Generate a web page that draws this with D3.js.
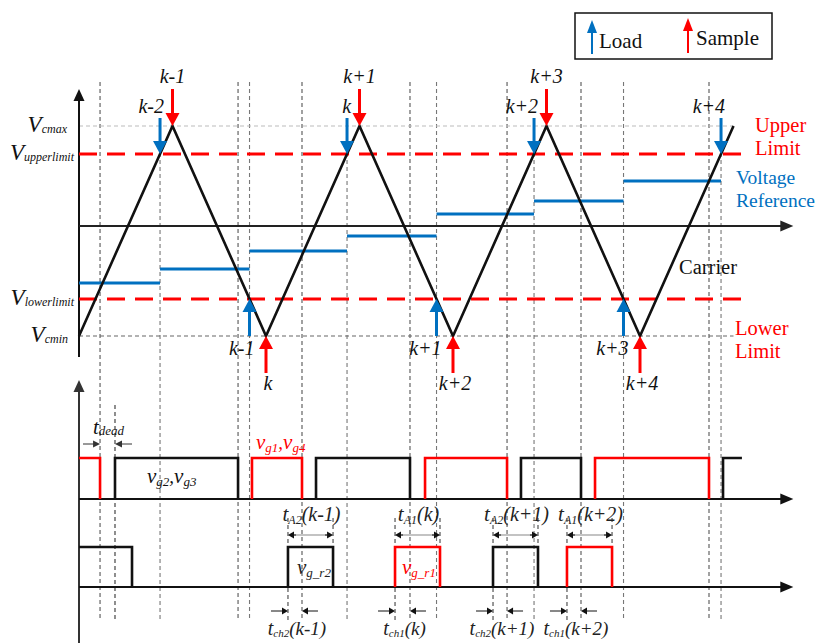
<!DOCTYPE html>
<html><head><meta charset="utf-8">
<script src="https://cdn.jsdelivr.net/npm/d3@7"></script>
<style>
body{margin:0;background:#fff;}
</style></head><body>
<svg id="chart" width="818" height="643"></svg>
<script>
// ---- data (time in carrier half-periods, voltage in per-unit) ----
const carrierT = [0, 1, 2, 3, 4, 5, 6, 7];
const carrierV = [-1.1, 1, -1.1, 1, -1.1, 1, -1.1, 1];
const vcMax = 1.0, vcMin = -1.1;
const upperLimit = 0.72, lowerLimit = -0.73;
const refLevels = [-0.57, -0.43, -0.25, -0.10, 0.12, 0.25, 0.45];
const loadLabels = ["k-2", "k-1", "k", "k+1", "k+2", "k+3", "k+4"];
const peakLabels = ["k-1", "k+1", "k+3"];
const valleyLabels = ["k", "k+2", "k+4"];
// main gate pulses (leg 1: v_g1,v_g4 ; leg 2: v_g2,v_g3)
const gateStart = [0, 0.385, 1.850, 2.535, 3.701, 4.727, 5.519, 6.888];
const gateEnd   = [0.225, 1.701, 2.385, 3.540, 4.578, 5.369, 6.738, 7.09];
const gateLeg   = [1, 2, 1, 2, 1, 2, 1, 2];
// auxiliary gate pulses v_g_r1 / v_g_r2
const rStart = [0, 2.235, 3.380, 4.428, 5.219];
const rEnd   = [0.567, 2.717, 3.861, 4.909, 5.701];
const rLeg   = [2, 2, 1, 2, 1];
const tALabels  = [["A2", "(k-1)"], ["A1", "(k)"], ["A2", "(k+1)"], ["A1", "(k+2)"]];
const tchLabels = [["ch2", "(k-1)"], ["ch1", "(k)"], ["ch2", "(k+1)"], ["ch1", "(k+2)"]];

const RED = "#ff0000", BLUE = "#0070c0", INK = "#111";
const FONT = "Liberation Serif";
const svg = d3.select("#chart");

// ---- scales ----
const x = d3.scaleLinear().domain([0, 7]).range([79, 733.5]);
const yV = d3.scaleLinear().domain([vcMin, vcMax]).range([336, 126]);
const yG = d3.scaleLinear().domain([0, 1]).range([499, 458]);
const yR = d3.scaleLinear().domain([0, 1]).range([587, 547]);
const tAxisEnd = 7.64, tLimitEnd = 7.18;

// load instants: carrier crossings of the upper limit (rising) and lower limit (falling)
const span = vcMax - vcMin;
const loadT = loadLabels.map((_, i) => {
  const n = Math.floor(i / 2);
  return i % 2 === 0 ? 2 * n + (upperLimit - vcMin) / span
                     : 2 * n + 2 - (lowerLimit - vcMin) / span;
});
const peakT = carrierT.filter((_, i) => carrierV[i] === vcMax && carrierT[i] < 7);
const valleyT = carrierT.filter((_, i) => carrierV[i] === vcMin && carrierT[i] > 0);

// ---- helpers ----
function arrow(g, x1, y1, x2, y2, color, w, hl, hw) {
  const dx = x2 - x1, dy = y2 - y1, L = Math.hypot(dx, dy);
  const ux = dx / L, uy = dy / L;
  const bx = x2 - ux * hl, by = y2 - uy * hl;
  g.append("line").attr("x1", x1).attr("y1", y1).attr("x2", bx + ux).attr("y2", by + uy)
    .attr("stroke", color).attr("stroke-width", w);
  g.append("path")
    .attr("d", `M${x2},${y2}L${bx - uy * hw / 2},${by + ux * hw / 2}L${bx + uy * hw / 2},${by - ux * hw / 2}Z`)
    .attr("fill", color);
}
function vline(g, t, y1, y2, color) {
  g.append("line").attr("x1", x(t)).attr("x2", x(t)).attr("y1", y1).attr("y2", y2)
    .attr("stroke", color).attr("stroke-width", 1.1).attr("stroke-dasharray", "4,3");
}
function subText(g, px, py, parts, color, anchor) {
  // parts: [text, size, dy]
  const t = g.append("text").attr("x", px).attr("y", py).attr("fill", color)
    .attr("font-family", FONT)
    .attr("text-anchor", anchor || "start").attr("font-style", "italic");
  parts.forEach(p => t.append("tspan").attr("font-size", p[1]).attr("dy", p[2] || 0).text(p[0]));
  return t;
}
function label(g, px, py, s, size, color, anchor, italic) {
  return g.append("text").attr("x", px).attr("y", py).attr("font-family", FONT)
    .attr("font-size", size).attr("fill", color).attr("text-anchor", anchor || "start")
    .attr("font-style", italic ? "italic" : "normal").text(s);
}

const guides = svg.append("g");
const marks = svg.append("g");
const labels = svg.append("g");

// ---- dashed guide lines ----
gateEnd.slice(0, -1).forEach(t => vline(guides, t, 82, 621, "#555"));
loadT.forEach((t, i) => vline(guides, t, i % 2 === 0 ? 118 : 82, 621, "#777"));
vline(guides, gateStart[1], 405, 621, "#333");
rStart.slice(1).forEach(t => vline(guides, t, 518, 621, "#444"));
rEnd.slice(1).forEach(t => vline(guides, t, 518, 547, "#444"));

// Vcmax / Vcmin levels
guides.append("line").attr("x1", x(0)).attr("x2", x(7)).attr("y1", yV(vcMax)).attr("y2", yV(vcMax))
  .attr("stroke", "#bbb").attr("stroke-width", 1.2).attr("stroke-dasharray", "4,3");
guides.append("line").attr("x1", x(0)).attr("x2", x(7)).attr("y1", yV(vcMin)).attr("y2", yV(vcMin))
  .attr("stroke", "#666").attr("stroke-width", 1.2).attr("stroke-dasharray", "4,3");

// ---- axes ----
arrow(marks, x(0), 357, x(0), 89, INK, 2, 12, 11);
arrow(marks, x(0), yV(0), x(tAxisEnd), yV(0), "#222", 2, 13, 11);
arrow(marks, x(0), 643, x(0), 380, "#333", 2, 12, 11);
arrow(marks, x(0), yG(0), x(tAxisEnd), yG(0), INK, 2, 13, 11);
arrow(marks, x(0), yR(0), x(tAxisEnd), yR(0), INK, 2, 13, 11);

// ---- limits ----
[upperLimit, lowerLimit].forEach(v => {
  marks.append("line").attr("x1", x(0)).attr("x2", x(tLimitEnd)).attr("y1", yV(v)).attr("y2", yV(v))
    .attr("stroke", RED).attr("stroke-width", 3).attr("stroke-dasharray", "18,10");
});

// ---- voltage reference (sample-and-hold) ----
const refBounds = [0].concat(loadT);
refLevels.forEach((v, i) => {
  marks.append("line").attr("x1", x(refBounds[i])).attr("x2", x(refBounds[i + 1]))
    .attr("y1", yV(v)).attr("y2", yV(v)).attr("stroke", BLUE).attr("stroke-width", 3);
});

// ---- carrier ----
marks.append("path")
  .attr("d", d3.line().x((d, i) => x(carrierT[i])).y((d, i) => yV(carrierV[i]))(carrierT))
  .attr("fill", "none").attr("stroke", INK).attr("stroke-width", 2.6);

// ---- sample arrows (red) and load arrows (blue) ----
peakT.forEach((t, i) => {
  arrow(marks, x(t), 89, x(t), yV(vcMax), RED, 3, 13, 14);
  label(labels, x(t), 83, peakLabels[i], 20, INK, "middle", true);
});
valleyT.forEach((t, i) => {
  arrow(marks, x(t), 373, x(t), yV(vcMin), RED, 3, 13, 14);
  label(labels, x(t) + 2, 390, valleyLabels[i], 20, INK, "middle", true);
});
loadT.forEach((t, i) => {
  const up = i % 2 === 1;
  if (up) arrow(marks, x(t), yV(vcMin), x(t), yV(lowerLimit), BLUE, 3, 13, 14);
  else arrow(marks, x(t), 118, x(t), yV(upperLimit), BLUE, 3, 13, 14);
  label(labels, x(t) + (up ? 5 : 4), up ? 355 : 113, loadLabels[i], 20, INK, "end", true);
});

// ---- gate pulses ----
function pulses(s, e, leg, y) {
  s.forEach((t0, i) => {
    const t1 = e[i];
    const p = d3.path();
    if (t0 === 0) { p.moveTo(x(t0), y(1)); }
    else { p.moveTo(x(t0), y(0)); p.lineTo(x(t0), y(1)); }
    p.lineTo(x(t1), y(1));
    if (!(y === yG && i === s.length - 1)) p.lineTo(x(t1), y(0));
    marks.append("path").attr("d", p.toString()).attr("fill", "none")
      .attr("stroke", leg[i] === 1 ? RED : INK).attr("stroke-width", 2.6);
  });
}
pulses(gateStart, gateEnd, gateLeg, yG);
pulses(rStart, rEnd, rLeg, yR);

// dead time
arrow(marks, x(0) + 4, 444, x(gateEnd[0]), 444, "#333", 1, 7, 7);
arrow(marks, x(rEnd[0]), 444, x(gateStart[1]), 444, "#333", 1, 7, 7);
subText(labels, 93, 434, [["t", 21], ["dead", 13, 1]], INK);

subText(labels, 147, 483, [["v", 21], ["g2", 13, 3], [",", 19, -3], ["v", 21], ["g3", 13, 3]], INK);
subText(labels, 256, 449, [["v", 21], ["g1", 13, 3], [",", 19, -3], ["v", 21], ["g4", 13, 3]], RED);
subText(labels, 297, 574, [["v", 21], ["g_r2", 13, 3]], "#222");
subText(labels, 402, 574, [["v", 21], ["g_r1", 13, 3]], RED);

// conduction interval (t_A) and charge interval (t_ch) annotations
rStart.slice(1).forEach((t0, i) => {
  const t1 = rEnd[i + 1];
  const yA = 535;
  marks.append("line").attr("x1", x(t0) + 6).attr("x2", x(t1) - 6).attr("y1", yA).attr("y2", yA)
    .attr("stroke", "#888").attr("stroke-width", 1.2);
  arrow(marks, x(t0) + 8, yA, x(t0), yA, INK, 1, 6, 7);
  arrow(marks, x(t1) - 8, yA, x(t1), yA, INK, 1, 6, 7);
  const mid = (x(t0) + x(t1)) / 2 + 1;
  subText(labels, mid, 521, [["t", 21], [tALabels[i][0], 12, 3], [tALabels[i][1], 20, -3]], "#222", "middle");

  // t_ch: from auxiliary turn-on to the next main-gate turn-off
  const tc = gateEnd.find(g => g > t0);
  const yc = 611;
  arrow(marks, x(t0) - 17, yc, x(t0), yc, INK, 1, 6, 7);
  arrow(marks, x(tc) + 16, yc, x(tc), yc, INK, 1, 6, 7);
  const cm = (x(t0) + x(tc)) / 2 + 2;
  subText(labels, cm, 635, [["t", 20], [tchLabels[i][0], 11, 2], [tchLabels[i][1], 19, -2]], "#222", "middle");
});

// ---- level labels ----
[[vcMax, "cmax", 67], [upperLimit, "upperlimit", 74], [lowerLimit, "lowerlimit", 74], [vcMin, "cmin", 68]]
  .forEach(d => {
    subText(labels, d[2], yV(d[0]) + 6, [["V", 23], [d[1], 12, 1]], INK, "end");
  });

// ---- right-hand captions ----
function caption(px, py, lines, color, size) {
  lines.forEach((s, i) => label(labels, px, py + i * 23, s, size || 20.5, color));
}
caption(755, 132, ["Upper", "Limit"], RED);
caption(736, 184, ["Voltage", "Reference"], BLUE, 19.5);
caption(679, 274, ["Carrier"], INK);
caption(735, 335, ["Lower", "Limit"], RED);

// ---- legend ----
const lg = svg.append("g");
lg.append("rect").attr("x", 575).attr("y", 13).attr("width", 197).attr("height", 46)
  .attr("fill", "#fff").attr("stroke", INK).attr("stroke-width", 1.5);
arrow(lg, 592, 54, 592, 20, BLUE, 2, 13, 10);
label(lg, 599, 48, "Load", 21, INK);
arrow(lg, 688, 53, 688, 18, RED, 2, 13, 10);
label(lg, 696, 45, "Sample", 21, INK);
</script>
</body></html>
